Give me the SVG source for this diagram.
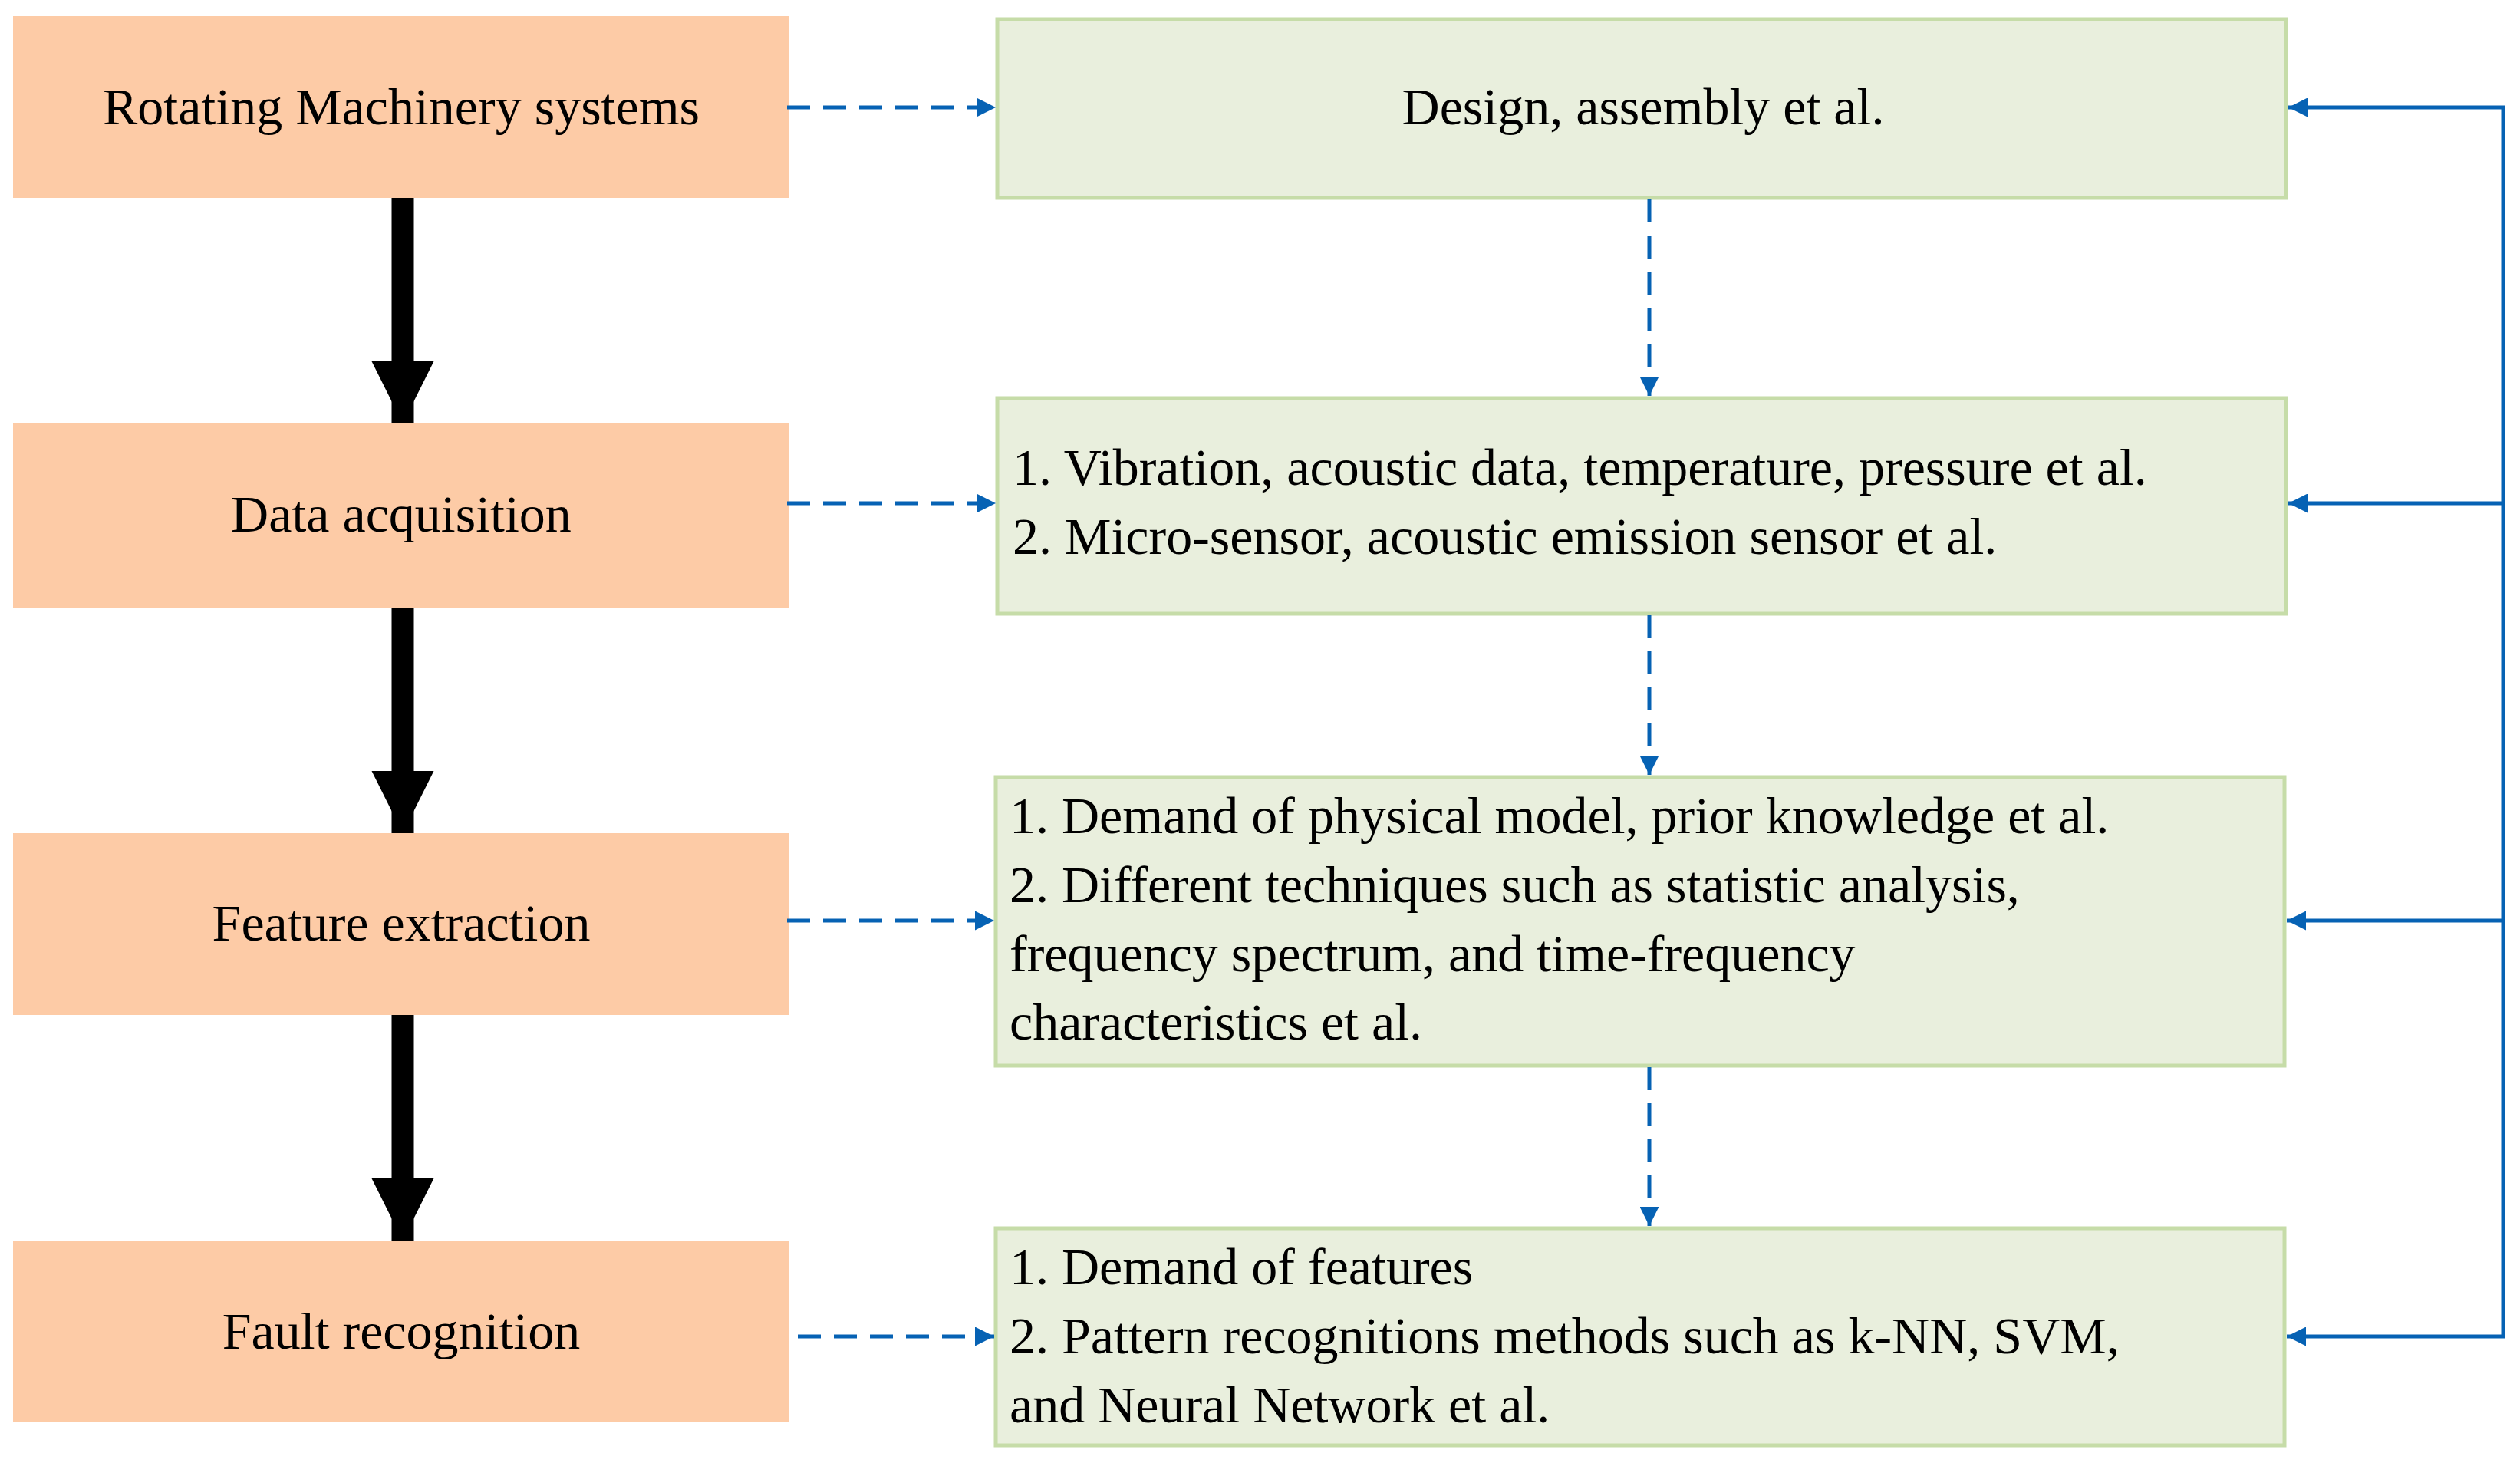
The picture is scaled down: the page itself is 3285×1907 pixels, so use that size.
<svg xmlns="http://www.w3.org/2000/svg" width="3285" height="1907" viewBox="0 0 3285 1907">
<style>
.o{fill:#FDCBA6}
.g{fill:#E9EFDD;stroke:#C6DCA8;stroke-width:5}
text{font-family:"Liberation Serif","Times New Roman",serif;font-size:68px;fill:#000}
.c{text-anchor:middle}
.d{stroke:#0662B4;stroke-width:5;fill:none;stroke-dasharray:30,17}
.s{stroke:#0662B4;stroke-width:5;fill:none}
.k{stroke:#000;stroke-width:29;fill:none}
</style>
<defs>
<marker id="b" viewBox="0 0 10 10" refX="10" refY="5" markerWidth="10" markerHeight="10" markerUnits="userSpaceOnUse" orient="auto"><path d="M0,0L10,5L0,10z" fill="#0662B4" transform="scale(1)"/></marker>
<marker id="a" viewBox="0 0 10 10" refX="10" refY="5" markerWidth="5" markerHeight="5" orient="auto"><path d="M0,0L10,5L0,10z" fill="#0662B4"/></marker>
<marker id="h" viewBox="0 0 10 10" refX="10" refY="5" markerWidth="2.8" markerHeight="2.8" orient="auto"><path d="M0,0L10,5L0,10z" fill="#000"/></marker>
</defs>
<g id="n1"><rect class="o" x="17" y="21" width="1012" height="237"/><text class="c" x="523" y="162">Rotating  Machinery systems</text></g>
<g id="n2"><rect class="o" x="17" y="552" width="1012" height="240"/><text class="c" x="523" y="693">Data acquisition</text></g>
<g id="n3"><rect class="o" x="17" y="1086" width="1012" height="237"/><text class="c" x="523" y="1226">Feature extraction</text></g>
<g id="n4"><rect class="o" x="17" y="1617" width="1012" height="237"/><text class="c" x="523" y="1758">Fault recognition</text></g>
<g id="g1"><rect class="g" x="1300" y="25" width="1680" height="233"/><text class="c" x="2142" y="162">Design, assembly et al.</text></g>
<g id="g2"><rect class="g" x="1300" y="519" width="1680" height="281"/><text x="1320" y="632">1. Vibration, acoustic data, temperature, pressure et al.</text><text x="1320" y="722">2. Micro-sensor, acoustic emission sensor et al.</text></g>
<g id="g3"><rect class="g" x="1298" y="1013" width="1680" height="376"/><text x="1316" y="1086">1. Demand of physical model, prior knowledge et al.</text><text x="1316" y="1176">2. Different techniques such as statistic analysis,</text><text x="1316" y="1266">frequency spectrum, and time-frequency</text><text x="1316" y="1355">characteristics  et al.</text></g>
<g id="g4"><rect class="g" x="1298" y="1601" width="1680" height="283"/><text x="1316" y="1674">1. Demand of features</text><text x="1316" y="1764">2. Pattern recognitions methods such as k-NN,  SVM,</text><text x="1316" y="1854">and Neural Network  et al.</text></g>
<g id="connectors">
<line class="k" x1="525" y1="258" x2="525" y2="552" marker-end="url(#h)"/>
<line class="k" x1="525" y1="792" x2="525" y2="1086" marker-end="url(#h)"/>
<line class="k" x1="525" y1="1323" x2="525" y2="1617" marker-end="url(#h)"/>
<line class="d" x1="1026" y1="140" x2="1298" y2="140" marker-end="url(#a)"/>
<line class="d" x1="1026" y1="656" x2="1298" y2="656" marker-end="url(#a)"/>
<line class="d" x1="1026" y1="1200" x2="1296" y2="1200" marker-end="url(#a)"/>
<line class="d" x1="1040" y1="1742" x2="1296" y2="1742" marker-end="url(#a)"/>
<line class="d" x1="2150" y1="260" x2="2150" y2="516" marker-end="url(#a)"/>
<line class="d" x1="2150" y1="802" x2="2150" y2="1010" marker-end="url(#a)"/>
<line class="d" x1="2150" y1="1391" x2="2150" y2="1598" marker-end="url(#a)"/>
<polyline class="s" points="3263,140 3263,1742"/>
<line class="s" x1="3265" y1="140" x2="2983" y2="140" marker-end="url(#a)"/>
<line class="s" x1="3265" y1="656" x2="2983" y2="656" marker-end="url(#a)"/>
<line class="s" x1="3265" y1="1200" x2="2981" y2="1200" marker-end="url(#a)"/>
<line class="s" x1="3265" y1="1742" x2="2981" y2="1742" marker-end="url(#a)"/>
</g>
</svg>
